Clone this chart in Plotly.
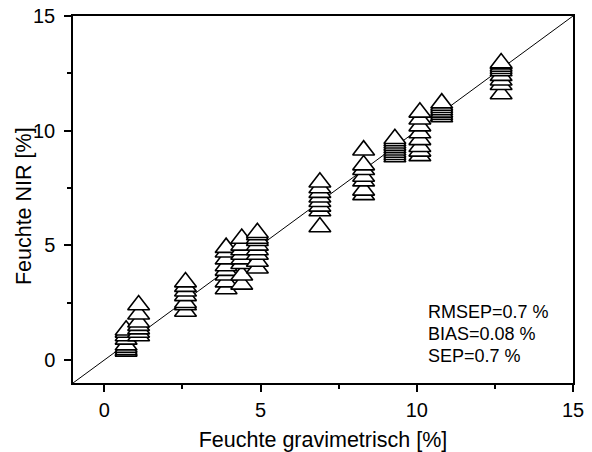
import plotly.graph_objects as go

# Gravimetric moisture (x) per sample group and NIR-predicted moisture (y)
x_groups = [0.7, 1.1, 2.6, 3.9, 4.4, 4.9, 6.9, 8.3, 9.3, 10.1, 10.8, 12.7]
y_groups = [
    [0.38, 0.45, 0.55, 0.65, 0.9, 1.05, 1.2, 1.3],
    [1.05, 1.2, 1.35, 1.5, 1.65, 2.0, 2.4],
    [2.12, 2.4, 2.5, 2.8, 3.0, 3.2, 3.4],
    [3.1, 3.4, 3.7, 3.9, 4.1, 4.4, 4.7, 4.9],
    [3.3, 3.7, 4.2, 4.4, 4.6, 4.8, 5.0, 5.3],
    [4.0, 4.3, 4.6, 4.8, 5.0, 5.2, 5.3, 5.45, 5.55],
    [5.8, 6.5, 6.7, 6.9, 7.1, 7.3, 7.5, 7.75],
    [7.2, 7.4, 7.8, 8.0, 8.3, 8.5, 9.15],
    [8.85, 8.95, 9.05, 9.15, 9.25, 9.35, 9.45, 9.55, 9.65],
    [8.9, 9.1, 9.3, 9.6, 9.9, 10.2, 10.5, 10.8],
    [10.6, 10.7, 10.8, 10.9, 11.0, 11.1, 11.2],
    [11.6, 12.0, 12.2, 12.4, 12.6, 12.7, 12.8, 12.9, 12.95],
]
identity = [-1, 15]
tick_vals = [0, 5, 10, 15]
tick_text = ["0", "5", "10", "15"]
stats_text = ["RMSEP=0.7 %", "BIAS=0.08 %", "SEP=0.7 %"]
stats_y = [2.09, 1.13, 0.17]
x_title = "Feuchte gravimetrisch [%]"
y_title = "Feuchte NIR [%]"

xs, ys = [], []
for xv, yl in zip(x_groups, y_groups):
    for yv in yl:
        xs.append(xv)
        ys.append(yv)

FONT = "Liberation Sans, Arial, sans-serif"

fig = go.Figure()
fig.add_trace(go.Scatter(x=identity, y=identity, mode="lines",
                         line=dict(color="black", width=1), hoverinfo="skip"))
fig.add_trace(go.Scatter(x=xs, y=ys, mode="markers",
                         marker=dict(symbol="triangle-up", size=19, color="white",
                                     line=dict(color="black", width=1.6))))

axis_common = dict(
    showline=True, linecolor="black", linewidth=1.5, mirror=True,
    showgrid=False, zeroline=False, automargin=False,
    ticks="outside", ticklen=7, tickwidth=1.5, tickcolor="black",
    tickvals=tick_vals, ticktext=tick_text,
    tickfont=dict(family=FONT, size=20, color="black"),
    minor=dict(ticks="outside", ticklen=4, tickwidth=1.5, tickcolor="black", dtick=2.5),
)
fig.update_xaxes(range=[-1, 15], ticklabelstandoff=1,
                 title=dict(text=x_title, font=dict(family=FONT, size=21.5, color="black"), standoff=18),
                 **axis_common)
fig.update_yaxes(range=[-1, 15], ticklabelstandoff=5, **axis_common)

# y-axis title as rotated text left of the tick labels
fig.add_annotation(x=-0.098, y=0.482, xref="paper", yref="paper", text=y_title,
                   textangle=-90, showarrow=False, xanchor="center", yanchor="middle",
                   font=dict(family=FONT, size=21.5, color="black"))

for t, yv in zip(stats_text, stats_y):
    fig.add_annotation(x=10.3, y=yv, xref="x", yref="y", text=t,
                       showarrow=False, xanchor="left", yanchor="middle",
                       font=dict(family=FONT, size=18, color="black"))

fig.update_layout(width=592, height=452, showlegend=False,
                  margin=dict(l=73, r=19, t=16, b=69, autoexpand=False),
                  plot_bgcolor="white", paper_bgcolor="white")
fig.write_html("out.html")
